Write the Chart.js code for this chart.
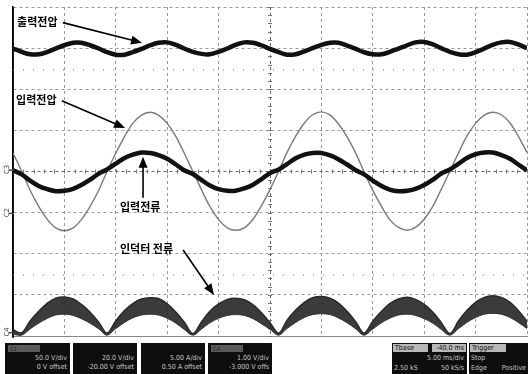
<!DOCTYPE html>
<html>
<head>
<meta charset="utf-8">
<script src="https://cdn.jsdelivr.net/npm/chart.js"></script>
<style>
  body { margin: 0; background: #fff; width: 528px; height: 374px; overflow: hidden; position: relative; }
  #wrap { position: absolute; left: 0; top: 0; width: 528px; height: 340px; }
  .box { position: absolute; top: 343px; height: 31px; background: #0e0e0e; color: #c4c4c4;
         font-family: "DejaVu Sans Condensed", "DejaVu Sans", sans-serif; font-size: 7px; line-height: 9px; }
  .box .hdr { position: absolute; left: 3px; top: 2px; width: 30px; height: 7px; background: #5a5a5a; color: #222; font-size: 6px; line-height: 7px; padding-left: 2px; }
  .box .r1, .box .r2 { position: absolute; right: 3px; white-space: nowrap; }
  .box .r1 { top: 11px; }
  .box .r2 { top: 20px; }
  .lab { position: absolute; background: #b8b8b8; color: #111; height: 8px; line-height: 8px; padding: 0 2px; white-space: nowrap; }
  .txt { position: absolute; white-space: nowrap; }
</style>
</head>
<body>
<div id="wrap"><canvas id="scope" width="528" height="340"></canvas></div>

<div class="box" style="left:5px;width:65px"><div class="hdr">C1</div><div class="r1">50.0 V/div</div><div class="r2">0 V offset</div></div>
<div class="box" style="left:73px;width:64px"><div class="r1">20.0 V/div</div><div class="r2">-20.00 V offset</div></div>
<div class="box" style="left:141px;width:64px"><div class="r1">5.00 A/div</div><div class="r2">0.50 A offset</div></div>
<div class="box" style="left:208px;width:64px"><div class="hdr">C4</div><div class="r1">1.00 V/div</div><div class="r2">-3.000 V offs</div></div>

<div class="box" style="left:392px;width:75px">
  <div class="lab" style="left:1px;top:1px;width:31px">Tbase</div>
  <div class="lab" style="left:40px;top:1px;width:30px;text-align:right">-40.0 ms</div>
  <div class="txt" style="right:3px;top:11px">5.00 ms/div</div>
  <div class="txt" style="left:2px;top:21px">2.50 kS</div>
  <div class="txt" style="right:3px;top:21px">50 kS/s</div>
</div>
<div class="box" style="left:469px;width:59px">
  <div class="lab" style="left:1px;top:1px;width:32px">Trigger</div>
  <div class="txt" style="left:2px;top:11px">Stop</div>
  <div class="txt" style="left:2px;top:21px">Edge</div>
  <div class="txt" style="right:2px;top:21px">Positive</div>
</div>

<script>
// time axis in divisions (5 ms/div), one sample every 1/6 div
const timeDiv = [0,0.17,0.33,0.5,0.67,0.83,1,1.17,1.33,1.5,1.67,1.83,2,2.17,2.33,2.5,2.67,2.83,3,3.17,3.33,3.5,3.67,3.83,4,4.17,4.33,4.5,4.67,4.83,5,5.17,5.33,5.5,5.67,5.83,6,6.17,6.33,6.5,6.67,6.83,7,7.17,7.33,7.5,7.67,7.83,8,8.17,8.33,8.5,8.67,8.83,9,9.17,9.33,9.5,9.67,9.83,10];

// screen positions in divisions (0 = bottom, 8 = top)
const outputVoltage = [6.99,6.91,6.85,6.85,6.91,6.99,7.07,7.13,7.13,7.07,
  6.99,6.90,6.84,6.84,6.90,6.98,7.07,7.13,7.14,7.08,
  6.99,6.91,6.86,6.85,6.91,6.99,7.08,7.14,7.13,7.07,
  6.98,6.90,6.84,6.85,6.92,7.00,7.08,7.13,7.13,7.06,
  6.98,6.90,6.85,6.85,6.91,6.99,7.07,7.14,7.15,7.09,
  7.00,6.91,6.85,6.84,6.90,6.99,7.08,7.14,7.15,7.09,7.00];

const inputVoltage = [4.45,4.00,3.55,3.15,2.83,2.63,2.56,2.63,2.83,3.15,
  3.55,4.00,4.45,4.85,5.17,5.37,5.44,5.37,5.17,4.85,
  4.45,4.00,3.55,3.15,2.83,2.63,2.57,2.63,2.84,3.16,
  3.56,4.01,4.46,4.86,5.18,5.38,5.45,5.37,5.16,4.84,
  4.44,3.99,3.54,3.15,2.83,2.64,2.57,2.64,2.84,3.16,
  3.56,4.01,4.46,4.86,5.17,5.37,5.44,5.38,5.18,4.86,4.46];

const inputCurrent = [4.03,3.93,3.78,3.65,3.57,3.52,3.53,3.58,3.67,3.80,
  3.95,4.05,4.19,4.33,4.41,4.46,4.45,4.40,4.31,4.17,
  4.03,3.94,3.79,3.66,3.57,3.53,3.53,3.59,3.68,3.81,
  3.96,4.05,4.18,4.32,4.41,4.45,4.45,4.39,4.30,4.17,
  4.03,3.93,3.78,3.65,3.56,3.52,3.53,3.58,3.67,3.80,
  3.95,4.05,4.19,4.33,4.42,4.46,4.46,4.40,4.31,4.17,4.03];

const inductorUpper = [0.15,0.08,0.36,0.60,0.80,0.92,0.95,0.90,0.77,0.58,
  0.33,0.07,0.37,0.62,0.79,0.90,0.93,0.91,0.78,0.58,
  0.34,0.06,0.35,0.60,0.78,0.89,0.92,0.88,0.76,0.57,
  0.32,0.07,0.38,0.63,0.82,0.93,0.96,0.92,0.80,0.60,
  0.34,0.07,0.36,0.60,0.79,0.90,0.94,0.89,0.77,0.58,
  0.33,0.06,0.37,0.62,0.82,0.94,0.98,0.94,0.82,0.62,0.36];

const inductorLower = [0.04,0.02,0.17,0.31,0.43,0.51,0.53,0.50,0.42,0.31,
  0.17,0.02,0.18,0.33,0.44,0.51,0.53,0.51,0.43,0.31,
  0.16,0.02,0.17,0.32,0.43,0.50,0.52,0.50,0.42,0.30,
  0.16,0.02,0.18,0.33,0.45,0.52,0.54,0.52,0.44,0.32,
  0.17,0.02,0.17,0.32,0.43,0.51,0.53,0.50,0.42,0.31,
  0.16,0.02,0.18,0.33,0.45,0.53,0.55,0.53,0.45,0.33,0.18];

const cursorLevels = [6.47, 1.48];

// callout labels: text position and arrow (tail -> head), in divisions
const callouts = [
  { text: '출력전압', x: 0.08, y: 7.64, from: [0.97, 7.62], to: [2.51, 7.13] },
  { text: '입력전압', x: 0.06, y: 5.74, from: [0.95, 5.72], to: [2.18, 5.06] },
  { text: '입력전류', x: 2.08, y: 3.14, from: [2.53, 3.36], to: [2.53, 4.36] },
  { text: '인덕터 전류', x: 2.08, y: 2.12, from: [3.31, 2.09], to: [3.91, 1.00] }
];
const channelMarks = [['C3', 4.05], ['C2', 3.00], ['C4', 0.10]];

function pts(arr) {
  return timeDiv.map((t, i) => ({ x: t, y: arr[i] }));
}

const scopeDecor = {
  id: 'scopeDecor',
  beforeDatasetsDraw(chart) {
    const { ctx, chartArea: area, scales: { x, y } } = chart;
    ctx.save();
    ctx.strokeStyle = '#777';
    ctx.lineWidth = 1;
    // small ticks on the centre cross
    const cy = y.getPixelForValue(4), cx = x.getPixelForValue(5);
    for (let v = 0; v <= 10.001; v += 0.2) {
      const px = Math.round(x.getPixelForValue(v)) + 0.5;
      ctx.beginPath(); ctx.moveTo(px, cy - 2); ctx.lineTo(px, cy + 2); ctx.stroke();
    }
    for (let v = 0; v <= 8.001; v += 0.2) {
      const py = Math.round(y.getPixelForValue(v)) + 0.5;
      ctx.beginPath(); ctx.moveTo(cx - 2, py); ctx.lineTo(cx + 2, py); ctx.stroke();
    }
    // solid black left frame
    ctx.strokeStyle = '#000';
    ctx.lineWidth = 1.5;
    ctx.beginPath(); ctx.moveTo(area.left, area.top); ctx.lineTo(area.left, area.bottom + 2); ctx.stroke();
    ctx.restore();
  },
  afterDatasetsDraw(chart) {
    const { ctx, scales: { x, y } } = chart;
    ctx.save();
    ctx.fillStyle = '#000';
    ctx.strokeStyle = '#000';
    ctx.font = 'bold 11px "Noto Sans CJK KR", sans-serif';
    ctx.textBaseline = 'middle';
    callouts.forEach(c => {
      ctx.fillText(c.text, x.getPixelForValue(c.x), y.getPixelForValue(c.y));
      const x1 = x.getPixelForValue(c.from[0]), y1 = y.getPixelForValue(c.from[1]);
      const x2 = x.getPixelForValue(c.to[0]), y2 = y.getPixelForValue(c.to[1]);
      const a = Math.atan2(y2 - y1, x2 - x1);
      ctx.lineWidth = 1.6;
      ctx.beginPath();
      ctx.moveTo(x1, y1);
      ctx.lineTo(x2 - 8 * Math.cos(a), y2 - 8 * Math.sin(a));
      ctx.stroke();
      ctx.beginPath();
      ctx.moveTo(x2, y2);
      ctx.lineTo(x2 - 11 * Math.cos(a) + 4.5 * Math.sin(a), y2 - 11 * Math.sin(a) - 4.5 * Math.cos(a));
      ctx.lineTo(x2 - 11 * Math.cos(a) - 4.5 * Math.sin(a), y2 - 11 * Math.sin(a) + 4.5 * Math.cos(a));
      ctx.closePath();
      ctx.fill();
    });
    // channel markers on the left edge
    ctx.font = '7px "DejaVu Sans", sans-serif';
    ctx.fillStyle = '#444';
    channelMarks.forEach(([name, lvl]) => {
      const py = y.getPixelForValue(lvl);
      ctx.save();
      ctx.translate(7, py);
      ctx.rotate(-Math.PI / 2);
      ctx.textAlign = 'center';
      ctx.fillText(name, 0, 0);
      ctx.restore();
      ctx.fillRect(9, py, 5, 1.5);
    });
    ctx.restore();
  }
};

new Chart(document.getElementById('scope'), {
  type: 'line',
  data: {
    datasets: [
      { label: '출력전압', data: pts(outputVoltage), borderColor: '#111', borderWidth: 4.5, order: 1 },
      { label: '입력전류', data: pts(inputCurrent), borderColor: '#111', borderWidth: 4.5, order: 2 },
      { label: '입력전압', data: pts(inputVoltage), borderColor: '#7a7a7a', borderWidth: 1.4, order: 3 },
      { label: '인덕터 전류', data: pts(inductorUpper), borderColor: '#2a2a2a', borderWidth: 1.5,
        backgroundColor: 'rgba(38,38,38,0.9)', fill: '+1', order: 4 },
      { label: 'inductor low', data: pts(inductorLower), borderColor: '#444', borderWidth: 1, fill: false, order: 5 },
      { label: 'cursor a', data: [{ x: 0, y: cursorLevels[0] }, { x: 10, y: cursorLevels[0] }],
        borderColor: '#777', borderWidth: 1, borderDash: [1, 9], tension: 0, order: 6 },
      { label: 'cursor b', data: [{ x: 0, y: cursorLevels[1] }, { x: 10, y: cursorLevels[1] }],
        borderColor: '#777', borderWidth: 1, borderDash: [1, 9], tension: 0, order: 7 }
    ]
  },
  options: {
    responsive: false,
    animation: false,
    layout: { padding: { left: 13, top: 7, right: 1, bottom: 4 } },
    elements: { point: { radius: 0 }, line: { tension: 0.35 } },
    plugins: { legend: { display: false }, tooltip: { enabled: false } },
    scales: {
      x: {
        type: 'linear', min: 0, max: 10,
        ticks: { display: false, stepSize: 1 },
        grid: { drawTicks: false, color: ctx => ctx.tick && ctx.tick.value === 5 ? '#666' : '#9a9a9a', lineWidth: 1 },
        border: { color: '#888', width: 1, dash: [3, 3] }
      },
      y: {
        min: 0, max: 8,
        ticks: { display: false, stepSize: 1 },
        grid: { drawTicks: false, color: ctx => ctx.tick && ctx.tick.value === 4 ? '#666' : '#9a9a9a', lineWidth: 1 },
        border: { color: '#000', width: 1.5, dash: [3, 3] }
      }
    }
  },
  plugins: [scopeDecor]
});
</script>
</body>
</html>
